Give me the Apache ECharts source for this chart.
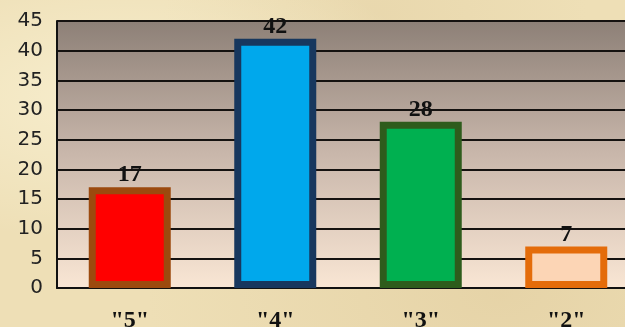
<!DOCTYPE html>
<html>
<head>
<meta charset="utf-8">
<script src="https://cdn.jsdelivr.net/npm/echarts@6/dist/echarts.min.js"></script>
<style>
html,body{margin:0;padding:0;overflow:hidden;width:625px;height:327px;}
#wrap{
    width:625px;
    height:327px;
    overflow:hidden;
    background-color:#eedfb6;
    background-image:
        radial-gradient(ellipse at 20% 30%, rgba(255,250,225,0.55), rgba(255,250,225,0) 45%),
        radial-gradient(ellipse at 80% 90%, rgba(215,190,140,0.35), rgba(215,190,140,0) 50%),
        radial-gradient(ellipse at 60% 5%, rgba(225,205,160,0.4), rgba(225,205,160,0) 40%);
}
/* plot runs past the right edge in the original, so the canvas is wider than the window */
#chart{width:639px;height:327px;}
</style>
</head>
<body>
<div id="wrap"><div id="chart"></div></div>
<script>
// data
const categories = ['"5"', '"4"', '"3"', '"2"'];
const values = [17, 42, 28, 7];
const fillColors = ['#ff0000', '#00a8ec', '#00b050', '#fcd5b5'];
const borderColors = ['#9c4a0e', '#17375e', '#2e5c1c', '#e46c0a'];

const myChart = echarts.init(document.getElementById('chart'));

const option = {
    animation: false,
    grid: {
        left: 57,
        right: 0,
        top: 21,
        bottom: 39,
        containLabel: false,
        outerBoundsMode: 'none',
        show: true,
        borderWidth: 0,
        backgroundColor: new echarts.graphic.LinearGradient(0, 0, 0, 1, [
            { offset: 0, color: '#8d8077' },
            { offset: 0.5, color: '#c9b7ab' },
            { offset: 1, color: '#f9e6d4' }
        ])
    },
    xAxis: {
        type: 'category',
        data: categories,
        axisLine: { show: true, lineStyle: { color: '#111', width: 2 } },
        axisTick: { show: false },
        axisLabel: {
            color: '#111',
            fontFamily: 'Liberation Serif, DejaVu Serif, serif',
            fontWeight: 'bold',
            fontSize: 24,
            margin: 21
        }
    },
    yAxis: {
        type: 'value',
        min: 0,
        max: 45,
        interval: 5,
        axisLine: { show: true, lineStyle: { color: '#111', width: 2 } },
        axisTick: { show: false },
        axisLabel: {
            color: '#222',
            fontFamily: 'DejaVu Sans, sans-serif',
            fontSize: 20,
            margin: 14
        },
        splitLine: { show: true, lineStyle: { color: '#151210', width: 2 } }
    },
    series: [
        {
            type: 'bar',
            barWidth: 82,
            data: values.map((v, i) => ({
                value: v,
                itemStyle: {
                    color: fillColors[i],
                    borderColor: borderColors[i],
                    borderWidth: 7
                }
            })),
            label: {
                show: true,
                position: 'top',
                distance: 0,
                color: '#111',
                fontFamily: 'Liberation Serif, DejaVu Serif, serif',
                fontWeight: 'bold',
                fontSize: 24
            }
        }
    ]
};

myChart.setOption(option);
</script>
</body>
</html>
